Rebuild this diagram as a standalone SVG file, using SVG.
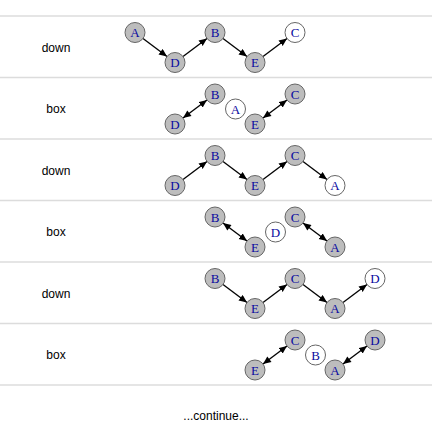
<svg xmlns="http://www.w3.org/2000/svg" width="432" height="432" viewBox="0 0 432 432">
<style>
.sep{stroke:#dcdcdc;stroke-width:1.5}
.lbl{font-family:"Liberation Sans",Arial,sans-serif;font-size:12px;fill:#000;text-anchor:middle}
.n circle{fill:#bdbdbd;stroke:#666;stroke-width:1}
.n.w circle{fill:#fff}
.n text{font-family:"Liberation Serif","Times New Roman",serif;font-size:13px;fill:#0a0aa0;text-anchor:middle}
.e{stroke:#000;stroke-width:1.3;fill:none}
.a{marker-end:url(#ah)}
.b{marker-end:url(#ah);marker-start:url(#as)}
</style>
<defs>
<marker id="ah" markerUnits="userSpaceOnUse" markerWidth="10" markerHeight="8" refX="8" refY="3.5" orient="auto"><path d="M0,0 L8,3.5 L0,7 z" fill="#000"/></marker>
<marker id="as" markerUnits="userSpaceOnUse" markerWidth="10" markerHeight="8" refX="0" refY="3.5" orient="auto"><path d="M8,0 L0,3.5 L8,7 z" fill="#000"/></marker>
</defs>
<rect width="432" height="432" fill="#fff"/>
<g id="separators">
<line class="sep" x1="0" y1="16" x2="432" y2="16"/>
<line class="sep" x1="0" y1="77.5" x2="432" y2="77.5"/>
<line class="sep" x1="0" y1="139" x2="432" y2="139"/>
<line class="sep" x1="0" y1="200.5" x2="432" y2="200.5"/>
<line class="sep" x1="0" y1="262" x2="432" y2="262"/>
<line class="sep" x1="0" y1="323.5" x2="432" y2="323.5"/>
<line class="sep" x1="0" y1="385" x2="432" y2="385"/>
</g>
<g id="labels">
<text class="lbl" x="56" y="51.5">down</text>
<text class="lbl" x="56" y="113">box</text>
<text class="lbl" x="56" y="174.5">down</text>
<text class="lbl" x="56" y="236">box</text>
<text class="lbl" x="56" y="297.5">down</text>
<text class="lbl" x="56" y="359">box</text>
<text class="lbl" x="216" y="420">...continue...</text>
</g>
<g id="connectors">
<line class="e a" x1="143" y1="38.5" x2="167" y2="56.5"/>
<line class="e a" x1="183" y1="56.5" x2="207" y2="38.5"/>
<line class="e a" x1="223" y1="38.5" x2="247" y2="56.5"/>
<line class="e a" x1="263" y1="56.5" x2="287" y2="38.5"/>
<line class="e b" x1="183" y1="118" x2="207" y2="100"/>
<line class="e b" x1="263" y1="118" x2="287" y2="100"/>
<line class="e a" x1="183" y1="179.5" x2="207" y2="161.5"/>
<line class="e a" x1="223" y1="161.5" x2="247" y2="179.5"/>
<line class="e a" x1="263" y1="179.5" x2="287" y2="161.5"/>
<line class="e a" x1="303" y1="161.5" x2="327" y2="179.5"/>
<line class="e b" x1="223" y1="223" x2="247" y2="241"/>
<line class="e b" x1="303" y1="223" x2="327" y2="241"/>
<line class="e a" x1="223" y1="284.5" x2="247" y2="302.5"/>
<line class="e a" x1="263" y1="302.5" x2="287" y2="284.5"/>
<line class="e a" x1="303" y1="284.5" x2="327" y2="302.5"/>
<line class="e a" x1="343" y1="302.5" x2="367" y2="284.5"/>
<line class="e b" x1="263" y1="364" x2="287" y2="346"/>
<line class="e b" x1="343" y1="364" x2="367" y2="346"/>
</g>
<g id="r1-A" class="n"><circle cx="135" cy="32.5" r="10"/><text x="135" y="37">A</text></g>
<g id="r1-D" class="n"><circle cx="175" cy="62.5" r="10"/><text x="175" y="67">D</text></g>
<g id="r1-B" class="n"><circle cx="215" cy="32.5" r="10"/><text x="215" y="37">B</text></g>
<g id="r1-E" class="n"><circle cx="255" cy="62.5" r="10"/><text x="255" y="67">E</text></g>
<g id="r1-C" class="n w"><circle cx="295" cy="32.5" r="10"/><text x="295" y="37">C</text></g>
<g id="r2-D" class="n"><circle cx="175" cy="124" r="10"/><text x="175" y="128.5">D</text></g>
<g id="r2-B" class="n"><circle cx="215" cy="94" r="10"/><text x="215" y="98.5">B</text></g>
<g id="r2-A" class="n w"><circle cx="235.5" cy="109" r="10"/><text x="235.5" y="113.5">A</text></g>
<g id="r2-E" class="n"><circle cx="255" cy="124" r="10"/><text x="255" y="128.5">E</text></g>
<g id="r2-C" class="n"><circle cx="295" cy="94" r="10"/><text x="295" y="98.5">C</text></g>
<g id="r3-D" class="n"><circle cx="175" cy="185.5" r="10"/><text x="175" y="190">D</text></g>
<g id="r3-B" class="n"><circle cx="215" cy="155.5" r="10"/><text x="215" y="160">B</text></g>
<g id="r3-E" class="n"><circle cx="255" cy="185.5" r="10"/><text x="255" y="190">E</text></g>
<g id="r3-C" class="n"><circle cx="295" cy="155.5" r="10"/><text x="295" y="160">C</text></g>
<g id="r3-A" class="n w"><circle cx="335" cy="185.5" r="10"/><text x="335" y="190">A</text></g>
<g id="r4-B" class="n"><circle cx="215" cy="217" r="10"/><text x="215" y="221.5">B</text></g>
<g id="r4-E" class="n"><circle cx="255" cy="247" r="10"/><text x="255" y="251.5">E</text></g>
<g id="r4-D" class="n w"><circle cx="275.5" cy="232" r="10"/><text x="275.5" y="236.5">D</text></g>
<g id="r4-C" class="n"><circle cx="295" cy="217" r="10"/><text x="295" y="221.5">C</text></g>
<g id="r4-A" class="n"><circle cx="335" cy="247" r="10"/><text x="335" y="251.5">A</text></g>
<g id="r5-B" class="n"><circle cx="215" cy="278.5" r="10"/><text x="215" y="283">B</text></g>
<g id="r5-E" class="n"><circle cx="255" cy="308.5" r="10"/><text x="255" y="313">E</text></g>
<g id="r5-C" class="n"><circle cx="295" cy="278.5" r="10"/><text x="295" y="283">C</text></g>
<g id="r5-A" class="n"><circle cx="335" cy="308.5" r="10"/><text x="335" y="313">A</text></g>
<g id="r5-D" class="n w"><circle cx="375" cy="278.5" r="10"/><text x="375" y="283">D</text></g>
<g id="r6-E" class="n"><circle cx="255" cy="370" r="10"/><text x="255" y="374.5">E</text></g>
<g id="r6-C" class="n"><circle cx="295" cy="340" r="10"/><text x="295" y="344.5">C</text></g>
<g id="r6-B" class="n w"><circle cx="315.5" cy="355" r="10"/><text x="315.5" y="359.5">B</text></g>
<g id="r6-A" class="n"><circle cx="335" cy="370" r="10"/><text x="335" y="374.5">A</text></g>
<g id="r6-D" class="n"><circle cx="375" cy="340" r="10"/><text x="375" y="344.5">D</text></g>
</svg>
